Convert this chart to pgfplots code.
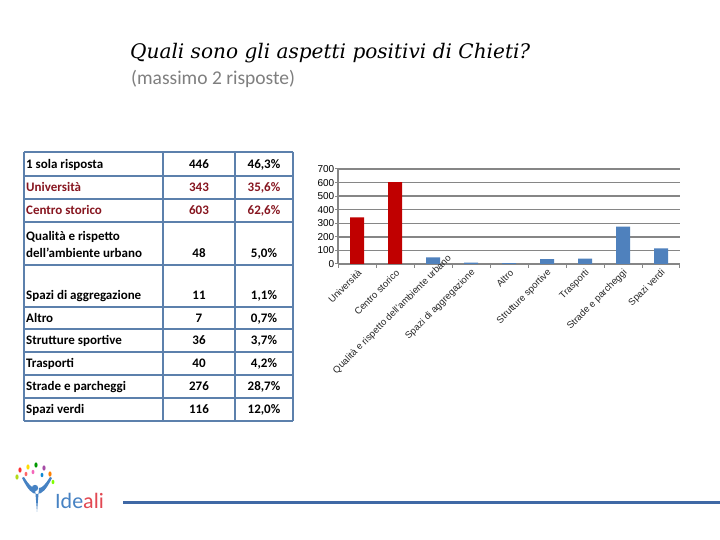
\documentclass[border=0pt]{standalone}
\usepackage{pgfplots}
\pgfplotsset{compat=1.18}
\usepackage{fontspec}
\setmainfont{Carlito}
\newfontfamily\titlefont{DejaVu Serif}
\newfontfamily\axisfont{Liberation Sans}
\definecolor{barred}{RGB}{192,0,0}
\definecolor{barblue}{RGB}{79,129,189}
\definecolor{tabline}{RGB}{92,128,172}
\definecolor{txtred}{RGB}{135,22,32}
\definecolor{gridgray}{RGB}{134,134,134}
\definecolor{subgray}{RGB}{127,127,127}
\definecolor{logoblue}{RGB}{70,130,195}
\definecolor{logored}{RGB}{226,72,82}
\definecolor{linecol}{RGB}{63,104,165}

\begin{document}
\begin{tikzpicture}[x=1pt,y=1pt]
\useasboundingbox (0,0) rectangle (720,540);
\fill[white] (0,0) rectangle (720,540);

% title and subtitle
\node[anchor=base west, inner sep=0] at (130,481) {\resizebox{400pt}{!}{\titlefont\itshape Quali sono gli aspetti positivi di Chieti?}};
\node[anchor=base west, inner sep=0, text=subgray] at (131,455) {\fontsize{19.5}{22}\selectfont (massimo 2 risposte)};

% table grid
\begin{scope}[tabline, line width=1.5pt]
\foreach \yy in {388,364,341,318,275,233,211,188,165,142,119} \draw (24,\yy) -- (293,\yy);
\foreach \xx in {24,163,235,293} \draw (\xx,388) -- (\xx,119);
\end{scope}

% table text
\begin{scope}[every node/.style={inner sep=0}, font=\fontsize{13}{15}\selectfont\bfseries]
\node[anchor=base west] at (26,371.5) {1 sola risposta};
\node[anchor=base] at (199,371.5) {446};
\node[anchor=base] at (264,371.5) {46,3\%};
\node[anchor=base west, text=txtred] at (26,348.5) {Università};
\node[anchor=base, text=txtred] at (199,348.5) {343};
\node[anchor=base, text=txtred] at (264,348.5) {35,6\%};
\node[anchor=base west, text=txtred] at (26,325) {Centro storico};
\node[anchor=base, text=txtred] at (199,325) {603};
\node[anchor=base, text=txtred] at (264,325) {62,6\%};
\node[anchor=base west] at (26,299) {Qualità e rispetto};
\node[anchor=base west] at (26,282) {dell’ambiente urbano};
\node[anchor=base] at (199,282) {48};
\node[anchor=base] at (264,282) {5,0\%};
\node[anchor=base west] at (26,240) {Spazi di aggregazione};
\node[anchor=base] at (199,240) {11};
\node[anchor=base] at (264,240) {1,1\%};
\node[anchor=base west] at (26,217.5) {Altro};
\node[anchor=base] at (199,217.5) {7};
\node[anchor=base] at (264,217.5) {0,7\%};
\node[anchor=base west] at (26,195) {Strutture sportive};
\node[anchor=base] at (199,195) {36};
\node[anchor=base] at (264,195) {3,7\%};
\node[anchor=base west] at (26,172) {Trasporti};
\node[anchor=base] at (199,172) {40};
\node[anchor=base] at (264,172) {4,2\%};
\node[anchor=base west] at (26,149) {Strade e parcheggi};
\node[anchor=base] at (199,149) {276};
\node[anchor=base] at (264,149) {28,7\%};
\node[anchor=base west] at (26,126) {Spazi verdi};
\node[anchor=base] at (199,126) {116};
\node[anchor=base] at (264,126) {12,0\%};
\end{scope}

% chart
\begin{axis}[
  at={(338pt,276pt)}, anchor=south west,
  scale only axis, width=342pt, height=95pt,
  xmin=-0.5, xmax=8.5, ymin=0, ymax=700,
  axis x line=bottom, axis y line=left,
  axis line style={-, gridgray, line width=1.2pt},
  ytick={0,100,...,700},
  ymajorgrids, grid style={gridgray, line width=1.5pt},
  xtick={0,...,8},
  xticklabels={Università, Centro storico, Qualità e rispetto dell’ambiente urbano\hspace*{-20pt}, Spazi di aggregazione, Altro, Strutture sportive, Trasporti, Strade e parcheggi, Spazi verdi},
  minor xtick={-0.5,0.5,...,8.5},
  major x tick style={draw=none},
  minor x tick style={gridgray, line width=1pt},
  y tick style={gridgray, line width=1pt},
  tick align=outside, major tick length=3pt, minor tick length=4pt,
  /pgf/number format/assume math mode=true,
  xticklabel style={rotate=45, anchor=east, font=\axisfont\fontsize{9.5}{10}\selectfont, text=black!85, inner sep=1pt, yshift=-5pt},
  yticklabel style={font=\axisfont\fontsize{10}{11}\selectfont, text=black, inner sep=0.5pt},
  clip=false,
]
\addplot[ybar, bar width=14pt, bar shift=0pt, fill=barred, draw=none] coordinates {(0,343) (1,603)};
\addplot[ybar, bar width=14pt, bar shift=0pt, fill=barblue, draw=none] coordinates {(2,48) (3,11) (4,7) (5,36) (6,40) (7,276) (8,116)};
\end{axis}

% logo
\draw[linecol, line width=3pt] (123,37.5) -- (720,37.5);
\node[anchor=base west, inner sep=0] at (55,31) {\fontsize{22}{24}\selectfont\textcolor{logoblue}{Ide}\textcolor{logored}{ali}};
\fill[logoblue] (35,52) circle (3.2);
\fill[logoblue] (22,62) .. controls (28,50) and (32,46) .. (37,46) .. controls (42,46) and (46,50) .. (52,62) -- (50,63) .. controls (45,55) and (42,52) .. (39,52) -- (37,28) -- (35,52) .. controls (32,52) and (29,55) .. (24,63) -- cycle;
\fill[red!80] (20,70) ellipse (1.6 and 2.6);
\fill[yellow!80!orange] (28,73) ellipse (1.6 and 2.6);
\fill[green!60!black] (36,75) ellipse (1.6 and 2.6);
\fill[violet!70] (44,72) ellipse (1.6 and 2.6);
\fill[orange] (50,66) ellipse (1.6 and 2.6);
\fill[yellow!70!green] (17,63) ellipse (1.6 and 2.6);
\fill[red!60] (26,66) ellipse (1.4 and 2.2);
\fill[cyan!70!blue] (42,65) ellipse (1.4 and 2.2);
\fill[green!50!yellow] (53,58) ellipse (1.4 and 2.2);
\fill[magenta!60] (33,68) ellipse (1.4 and 2.2);
\end{tikzpicture}
\end{document}
